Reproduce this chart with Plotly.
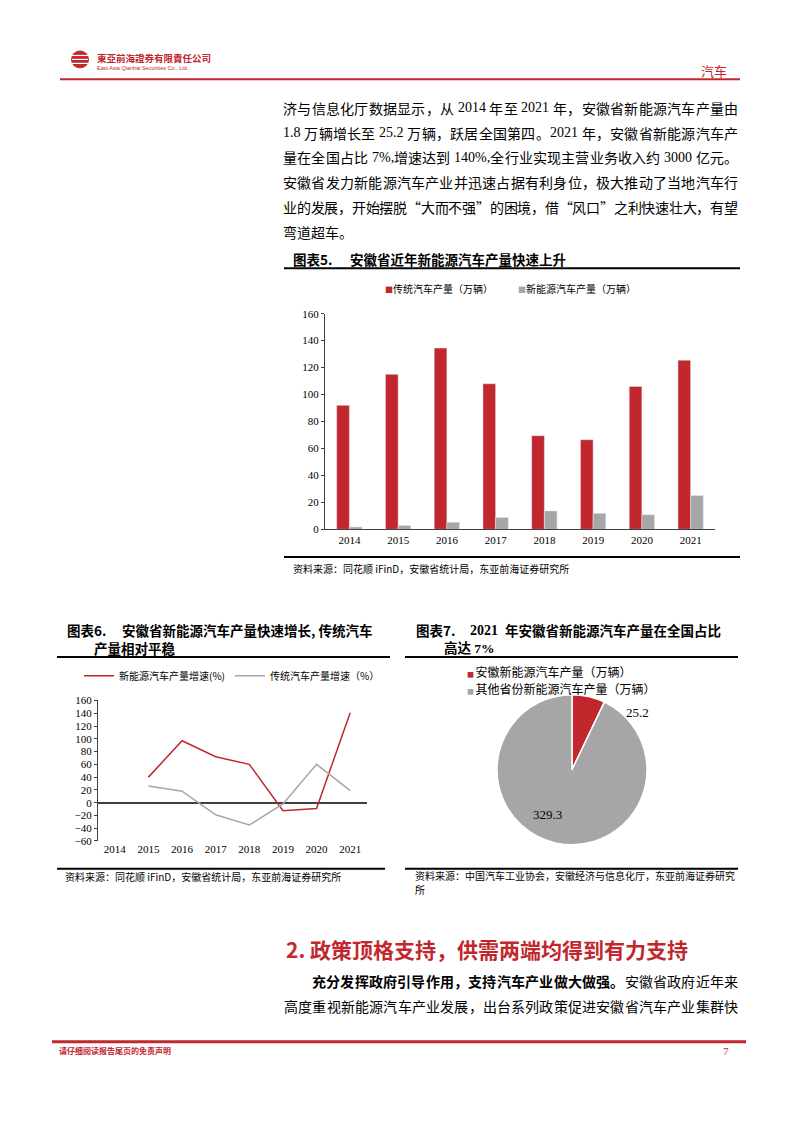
import plotly.graph_objects as go

W, H = 794, 1123
RED = "#C1272D"
GRAY = "#A6A6A6"
FONT = "Liberation Serif, Noto Sans CJK SC"
CJK = "Noto Sans CJK SC"

years = ["2014", "2015", "2016", "2017", "2018", "2019", "2020", "2021"]
trad_output = [92, 115, 134.5, 108, 69.5, 66.5, 106, 125.5]
nev_output = [1.8, 2.9, 5.3, 8.8, 13.7, 11.9, 10.9, 25.2]
nev_growth = [None, 40, 97, 72, 60, -12.6, -9, 141]
trad_growth = [None, 26, 18, -19, -35, -2, 60, 19]
pie_labels = ["安徽新能源汽车产量（万辆）", "其他省份新能源汽车产量（万辆）"]
pie_values = [25.2, 329.3]
bar_names = ["传统汽车产量（万辆）", "新能源汽车产量（万辆）"]
line_names = ["新能源汽车产量增速(%)", "传统汽车产量增速（%）"]


def X(p):
    return p / W


def Y(p):
    return 1 - p / H


fig = go.Figure()

# Chart 5 bars
fig.add_trace(go.Bar(x=years, y=trad_output, name=bar_names[0], marker_color=RED,
                     xaxis="x", yaxis="y", showlegend=False))
fig.add_trace(go.Bar(x=years, y=nev_output, name=bar_names[1], marker_color=GRAY,
                     xaxis="x", yaxis="y", showlegend=False))

# Chart 6 lines
fig.add_trace(go.Scatter(x=years, y=nev_growth, name=line_names[0], mode="lines",
                         line=dict(color=RED, width=1.5), xaxis="x2", yaxis="y2", legend="legend2"))
fig.add_trace(go.Scatter(x=years, y=trad_growth, name=line_names[1], mode="lines",
                         line=dict(color=GRAY, width=1.5), xaxis="x2", yaxis="y2", legend="legend2"))

# Chart 7 pie
fig.add_trace(go.Pie(labels=pie_labels, values=pie_values, sort=False, direction="clockwise",
                     rotation=0, marker=dict(colors=[RED, GRAY], line=dict(color="white", width=1.5)),
                     textinfo="none", hoverinfo="label+value", showlegend=False,
                     domain=dict(x=[X(497), X(647)], y=[Y(848), Y(696)])))

axis_common = dict(showgrid=False, linecolor="#404040", linewidth=1, tickfont=dict(family=FONT, size=11, color="black"))

fig.update_layout(
    width=W, height=H, margin=dict(l=0, r=0, t=0, b=0),
    paper_bgcolor="white", plot_bgcolor="white",
    barmode="group", bargap=0.48, bargroupgap=0,
    font=dict(family=FONT, color="black"),
    xaxis=dict(domain=[X(325), X(715)], anchor="y", showline=True, ticks="", **axis_common),
    yaxis=dict(domain=[Y(529), Y(311)], anchor="x", range=[0, 160], dtick=20, showline=True,
               ticks="outside", ticklen=3, tickcolor="#404040", zeroline=False, **axis_common),
    xaxis2=dict(domain=[X(98), X(367)], anchor="y2", showline=False, ticks="",
                range=[-0.5, 7.5], **axis_common),
    yaxis2=dict(domain=[Y(844), Y(702)], anchor="x2", range=[-60, 160], dtick=20, showline=True,
                ticks="outside", ticklen=3, tickcolor="#404040", zeroline=True, zerolinecolor="#404040",
                zerolinewidth=1.5, **axis_common),
    legend2=dict(orientation="h", x=X(79), y=Y(677), xanchor="left", yanchor="middle",
                 font=dict(family=CJK, size=10), bgcolor="rgba(0,0,0,0)", itemwidth=30),
)

ann = []


def txt(x, y, s, size=14, color="black", anchor="left", family=FONT):
    ann.append(dict(x=X(x), y=Y(y), xref="paper", yref="paper", text=s, showarrow=False,
                    xanchor=anchor, yanchor="middle", font=dict(size=size, color=color, family=family)))


ASCII_W = {".": 0.25, ",": 0.25, "%": 0.833, " ": 0.25}


def tokenize(segments):
    toks = []
    for s, bold in segments:
        i = 0
        pending_space = False
        while i < len(s):
            c = s[i]
            if c == " ":
                pending_space = True
                i += 1
                continue
            if ord(c) < 128:
                j = i
                while j < len(s) and ord(s[j]) < 128 and s[j] != " ":
                    j += 1
                run = s[i:j]
                w = sum(ASCII_W.get(ch, 0.5) for ch in run)
                toks.append([run, bold, w, pending_space])
                i = j
            else:
                toks.append([c, bold, 1.0, pending_space])
                i += 1
            pending_space = False
    return toks


def justify(x0, x1, y, segments, size=14, justify_line=True):
    toks = tokenize(segments)
    natural = sum(t[2] * size for t in toks) + sum(0.25 * size for t in toks if t[3])
    gaps = len(toks) - 1
    extra = (x1 - x0 - natural) / gaps if (justify_line and gaps > 0) else 0
    pos = x0
    for s, bold, w, sp in toks:
        if sp:
            pos += 0.25 * size
        wpx = w * size
        fam = CJK if ord(s[0]) >= 128 else FONT
        txt(pos + wpx / 2, y, f"<b>{s}</b>" if bold else s, size, anchor="center", family=fam)
        pos += wpx + extra


# Header
txt(95, 53, "<b>東亞前海證券有限責任公司</b>", 9.5, RED, family=CJK)
txt(95, 63, "East Asia Qianhai Securities Co., Ltd.", 5.5, RED, family="Liberation Sans")
txt(729, 65, "汽车", 13, RED, anchor="right", family=CJK)

# Body paragraph
body = [
    "济与信息化厅数据显示，从 2014 年至 2021 年，安徽省新能源汽车产量由",
    "1.8 万辆增长至 25.2 万辆，跃居全国第四。2021 年，安徽省新能源汽车产",
    "量在全国占比 7%,增速达到 140%,全行业实现主营业务收入约 3000 亿元。",
    "安徽省发力新能源汽车产业并迅速占据有利身位，极大推动了当地汽车行",
    "业的发展，开始摆脱“大而不强”的困境，借“风口”之利快速壮大，有望",
]
for i, line in enumerate(body):
    justify(283, 738, 103 + i * 25, [(line, False)])
justify(283, 738, 103 + 5 * 25, [("弯道超车。", False)], justify_line=False)

# Chart titles
txt(291, 256, "<b>图表5.</b>", 13.5, family=CJK)
txt(348, 256, "<b>安徽省近年新能源汽车产量快速上升</b>", 13.5, family=CJK)
txt(291, 569, "资料来源：同花顺 iFinD，安徽省统计局，东亚前海证券研究所", 10, family=CJK)

txt(65, 631, "<b>图表6.</b>", 13.5, family=CJK)
txt(120, 631, "<b>安徽省新能源汽车产量快速增长, 传统汽车</b>", 13.5, family=CJK)
txt(92, 649, "<b>产量相对平稳</b>", 13.5, family=CJK)
txt(63, 880, "资料来源：同花顺 iFinD，安徽省统计局，东亚前海证券研究所", 10, family=CJK)

txt(414, 631, "<b>图表7.</b>", 13.5, family=CJK)
txt(468, 631, "<b>2021</b>", 14, family="Liberation Serif")
txt(503, 631, "<b>年安徽省新能源汽车产量在全国占比</b>", 13.5, family=CJK)
txt(442, 649, "<b>高达 7%</b>", 13.5, family=FONT)
txt(413, 879, "资料来源：中国汽车工业协会，安徽经济与信息化厅，东亚前海证券研究", 10, family=CJK)
txt(413, 893, "所", 10, family=CJK)

# Chart 5 legend (text-based)
txt(383, 286, f"<span style='color:{RED};font-size:8px'>■</span>{bar_names[0]}", 10, family=CJK)
txt(516, 286, f"<span style='color:{GRAY};font-size:8px'>■</span>{bar_names[1]}", 10, family=CJK)

# Chart 7 legend (text-based)
txt(465, 673, f"<span style='color:{RED};font-size:7px'>■ </span>{pie_labels[0]}", 12, family=CJK)
txt(465, 690, f"<span style='color:{GRAY};font-size:7px'>■ </span>{pie_labels[1]}", 12, family=CJK)

# Pie value labels
txt(637, 714, f"{pie_values[0]}", 13, anchor="center")
txt(547, 817, f"{pie_values[1]}", 13, anchor="center")

# Section heading
txt(284, 953, "<b>2. 政策顶格支持，供需两端均得到有力支持</b>", 21, RED, family=CJK)
justify(312, 738, 986, [("充分发挥政府引导作用，支持汽车产业做大做强。", True), ("安徽省政府近年来", False)])
justify(284, 738, 1011, [("高度重视新能源汽车产业发展，出台系列政策促进安徽省汽车产业集群快", False)])

# Footer
txt(57, 1056, "<b>请仔细阅读报告尾页的免责声明</b>", 8, RED, family=CJK)
txt(731, 1056, "7", 11, RED, anchor="right")

fig.update_layout(annotations=ann)

shapes = []


def hline(x0, x1, y, color="black", width=2):
    shapes.append(dict(type="line", xref="paper", yref="paper", x0=X(x0), x1=X(x1), y0=Y(y), y1=Y(y),
                       line=dict(color=color, width=width)))


hline(60, 740, 74, RED, 2)
hline(284, 740, 265, "black", 2)
hline(284, 740, 557, "black", 2)
hline(57, 390, 658, "black", 2)
hline(57, 385, 872, "black", 2)
hline(405, 738, 658, "black", 2)
hline(405, 738, 872, "black", 2)
hline(52, 746, 1047, RED, 3)

# logo
shapes.append(dict(type="circle", xref="paper", yref="paper", x0=X(71), x1=X(89), y0=Y(63), y1=Y(45),
                   fillcolor=RED, line=dict(width=0)))
for yy in (50, 54, 58):
    hline(72, 88, yy, "white", 1.2)
fig.update_layout(shapes=shapes)

fig.write_html("out.html")
